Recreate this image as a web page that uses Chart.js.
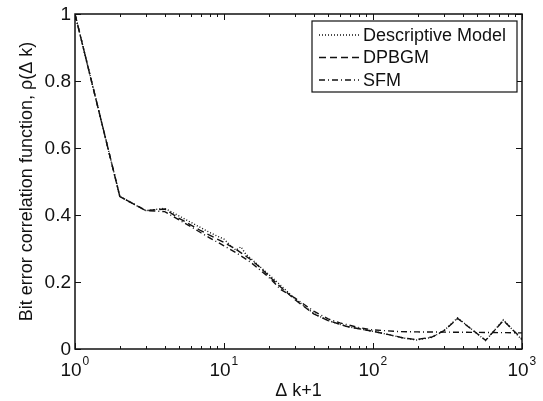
<!DOCTYPE html>
<html>
<head>
<meta charset="utf-8">
<script src="https://cdn.jsdelivr.net/npm/chart.js@4/dist/chart.umd.min.js"></script>
<style>
  html, body { margin: 0; padding: 0; background: #fff; }
  canvas { display: block; }
</style>
</head>
<body>
<canvas id="chart" width="543" height="401"></canvas>
<script>
// Data (x = Δk+1, log axis)
const xDesc = [1, 2, 3, 4, 5, 6, 7, 8, 9, 10, 11, 12, 13, 14, 15, 17, 20, 24, 30, 40, 50, 67, 100, 130, 160, 196, 250, 300, 370, 570, 750, 1000];
const descriptive = [1.0, 0.455, 0.413, 0.42, 0.397, 0.378, 0.362, 0.348, 0.337, 0.328, 0.31, 0.295, 0.305, 0.283, 0.272, 0.25, 0.222, 0.19, 0.15, 0.106, 0.085, 0.067, 0.053, 0.042, 0.033, 0.027, 0.035, 0.055, 0.093, 0.025, 0.087, 0.027];

const xDpbgm = [1, 2, 3, 4, 5, 6, 7, 8, 10, 12, 15, 17, 20, 24, 30, 40, 50, 67, 100, 130, 160, 196, 250, 300, 370, 570, 750, 1000];
const dpbgm = [1.0, 0.455, 0.413, 0.418, 0.39, 0.37, 0.353, 0.34, 0.318, 0.298, 0.268, 0.248, 0.218, 0.185, 0.147, 0.105, 0.085, 0.067, 0.053, 0.042, 0.033, 0.028, 0.036, 0.055, 0.091, 0.026, 0.085, 0.03];

const xSfm = [1, 2, 3, 4, 5, 6, 7, 8, 10, 12, 15, 20, 24, 30, 40, 50, 60, 80, 100, 150, 200, 400, 700, 1000];
const sfm = [1.0, 0.455, 0.413, 0.41, 0.385, 0.365, 0.347, 0.332, 0.308, 0.288, 0.26, 0.214, 0.178, 0.152, 0.113, 0.09, 0.078, 0.064, 0.057, 0.052, 0.051, 0.05, 0.049, 0.048];

const seriesLabels = ['Descriptive Model', 'DPBGM', 'SFM'];
const seriesDash = [[1, 2], [7, 4], [6, 3, 1, 3]];

const yTicks = [0, 0.2, 0.4, 0.6, 0.8, 1];
const yTickLabels = ['0', '0.2', '0.4', '0.6', '0.8', '1'];
const xDecades = [1, 10, 100, 1000];
const xExponents = ['0', '1', '2', '3'];
const xMinor = [2, 3, 4, 5, 6, 7, 8, 9, 20, 30, 40, 50, 60, 70, 80, 90, 200, 300, 400, 500, 600, 700, 800, 900];

const FONT = '"Liberation Sans", Arial, Helvetica, sans-serif';
const INK = '#111';

function toPoints(xs, ys) {
  return xs.map((x, i) => ({ x, y: ys[i] }));
}

// Axis box, inward ticks, tick labels, titles and legend (MATLAB look)
const frame = {
  id: 'frame',
  afterDraw(chart) {
    const { ctx, chartArea: a, scales } = chart;
    const sx = scales.x, sy = scales.y;
    ctx.save();
    ctx.strokeStyle = INK;
    ctx.fillStyle = INK;

    // ticks
    ctx.lineWidth = 1;
    ctx.beginPath();
    xDecades.forEach((v) => {
      const p = Math.round(sx.getPixelForValue(v)) + 0.5;
      ctx.moveTo(p, a.bottom); ctx.lineTo(p, a.bottom - 6);
      ctx.moveTo(p, a.top); ctx.lineTo(p, a.top + 6);
    });
    xMinor.forEach((v) => {
      const p = Math.round(sx.getPixelForValue(v)) + 0.5;
      ctx.moveTo(p, a.bottom); ctx.lineTo(p, a.bottom - 3);
      ctx.moveTo(p, a.top); ctx.lineTo(p, a.top + 3);
    });
    yTicks.forEach((v) => {
      const p = Math.round(sy.getPixelForValue(v)) + 0.5;
      ctx.moveTo(a.left, p); ctx.lineTo(a.left + 6, p);
      ctx.moveTo(a.right, p); ctx.lineTo(a.right - 6, p);
    });
    ctx.stroke();

    // box
    ctx.lineWidth = 1.5;
    ctx.strokeRect(a.left, a.top, a.right - a.left, a.bottom - a.top);

    // y tick labels
    ctx.font = '19px ' + FONT;
    ctx.textAlign = 'right';
    ctx.textBaseline = 'middle';
    yTicks.forEach((v, i) => {
      ctx.fillText(yTickLabels[i], a.left - 4, sy.getPixelForValue(v) + 1);
    });

    // x tick labels: 10 with superscript exponent
    xDecades.forEach((v, i) => {
      const p = sx.getPixelForValue(v);
      ctx.font = '19px ' + FONT;
      ctx.textAlign = 'center';
      ctx.textBaseline = 'alphabetic';
      ctx.fillText('10', p - 4, a.bottom + 27);
      const w = ctx.measureText('10').width;
      ctx.font = '12px ' + FONT;
      ctx.textAlign = 'left';
      ctx.fillText(xExponents[i], p - 4 + w / 2 + 1, a.bottom + 16);
    });

    // axis titles
    ctx.font = '18px ' + FONT;
    ctx.textAlign = 'center';
    ctx.textBaseline = 'middle';
    ctx.fillText('\u0394 k+1', (a.left + a.right) / 2, 391);
    ctx.save();
    ctx.translate(27, (a.top + a.bottom) / 2);
    ctx.rotate(-Math.PI / 2);
    ctx.fillText('Bit error correlation function, \u03c1(\u0394 k)', 0, 0);
    ctx.restore();

    // legend
    const lx = 312, ly = 21, lw = 205, lh = 71;
    ctx.fillStyle = '#fff';
    ctx.fillRect(lx, ly, lw, lh);
    ctx.lineWidth = 1.2;
    ctx.strokeStyle = INK;
    ctx.strokeRect(lx, ly, lw, lh);
    chart.data.datasets.forEach((ds, i) => {
      const y = 35 + i * 22.5;
      ctx.setLineDash(ds.borderDash);
      ctx.lineWidth = 1.3;
      ctx.beginPath();
      ctx.moveTo(319, y);
      ctx.lineTo(359, y);
      ctx.stroke();
      ctx.setLineDash([]);
      ctx.fillStyle = INK;
      ctx.font = '18px ' + FONT;
      ctx.textAlign = 'left';
      ctx.textBaseline = 'middle';
      ctx.fillText(ds.label, 363, y + 1);
    });
    ctx.restore();
  }
};

const allX = [xDesc, xDpbgm, xSfm];
const allY = [descriptive, dpbgm, sfm];

new Chart(document.getElementById('chart'), {
  type: 'line',
  data: {
    datasets: seriesLabels.map((label, i) => ({
      label,
      data: toPoints(allX[i], allY[i]),
      borderColor: INK,
      borderWidth: 1.4,
      borderDash: seriesDash[i],
      pointRadius: 0,
      tension: 0,
      fill: false,
    })),
  },
  options: {
    responsive: false,
    devicePixelRatio: 1,
    animation: false,
    layout: { padding: { left: 75, top: 14, right: 21, bottom: 52 } },
    scales: {
      x: { type: 'logarithmic', min: 1, max: 1000, display: false },
      y: { type: 'linear', min: 0, max: 1, display: false },
    },
    plugins: {
      legend: { display: false },
      tooltip: { enabled: false },
    },
  },
  plugins: [frame],
});
</script>
</body>
</html>
